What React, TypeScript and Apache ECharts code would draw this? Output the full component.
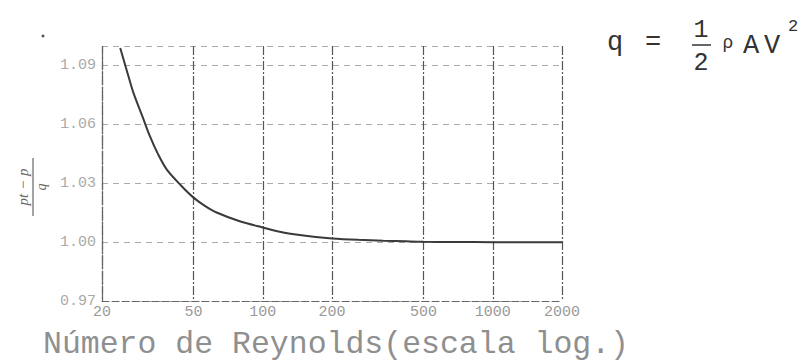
import React, { useEffect, useRef } from "react";
import * as echarts from "echarts";

// Reynolds number (log scale) and pressure coefficient (pt - p)/q
const reynolds = [24, 26, 27.4, 30, 32.3, 35, 38.2, 44, 50, 56, 63, 80, 100, 120, 145, 170, 200, 260, 334, 420, 500, 700, 1000, 1400, 2000];
const coef = [1.099, 1.085, 1.0761, 1.064, 1.054, 1.045, 1.0371, 1.029, 1.0227, 1.0185, 1.0151, 1.0105, 1.0075, 1.0052, 1.0036, 1.0026, 1.0019, 1.0012, 1.0007, 1.0004, 1.0002, 1.0001, 1.0, 1.0, 1.0];

const xTicks = [20, 50, 100, 200, 500, 1000, 2000];
const yTickLabels = ["0.97", "1.00", "1.03", "1.06", "1.09"];
const xName = "Número de Reynolds(escala log.)";

export default function App() {
  const ref = useRef<HTMLDivElement>(null);
  useEffect(() => {
    if (!ref.current) return;
    const chart = echarts.init(ref.current, null, { renderer: "svg" });
    const mono = "Liberation Mono";
    const glyph = (text: string, x: number, y: number, size: number) => ({
      type: "text",
      x,
      y,
      style: { text, fontFamily: mono, fontSize: size, fill: "#333", align: "center", verticalAlign: "middle" },
    });
    chart.setOption({
      animation: false,
      backgroundColor: "#ffffff",
      grid: { left: 102, right: 241, top: 46, bottom: 62 },
      xAxis: {
        type: "log",
        logBase: 10,
        min: 20,
        max: 2000,
        axisLine: { show: true, lineStyle: { color: "#666", type: [7, 3], width: 1 } },
        axisTick: { show: false, customValues: xTicks },
        axisLabel: {
          customValues: xTicks,
          color: "#999",
          fontFamily: mono,
          fontSize: 15,
          margin: 4,
          formatter: (v: number) => String(Math.round(v)),
        },
        splitLine: { show: true, lineStyle: { color: "#555", type: [9, 2, 2, 2], width: 1.2 } },
      },
      yAxis: {
        type: "value",
        min: 0.97,
        max: 1.1,
        interval: 0.03,
        axisLine: { show: true, lineStyle: { color: "#666", type: [6, 2], width: 1.2 } },
        axisTick: { show: false },
        axisLabel: {
          color: "#aaa",
          fontFamily: mono,
          fontSize: 15,
          margin: 6,
          showMaxLabel: false,
          formatter: (v: number) => {
            const s = v.toFixed(2);
            return yTickLabels.includes(s) ? s : "";
          },
        },
        splitLine: { show: true, lineStyle: { color: "#aaa", type: [6, 5], width: 1 } },
      },
      series: [
        {
          type: "line",
          data: reynolds.map((r, i) => [r, coef[i]]),
          smooth: 0.3,
          showSymbol: false,
          lineStyle: { color: "#3a3a3a", width: 2 },
          z: 5,
        },
      ],
      graphic: [
        { type: "circle", shape: { cx: 43, cy: 36, r: 1.5 }, style: { fill: "#555" } },
        // vertical fraction label (pt - p)/q
        {
          type: "group",
          x: 33,
          y: 187,
          rotation: Math.PI / 2,
          children: [
            {
              type: "text",
              x: 0,
              y: -10,
              style: {
                text: "pt − p",
                fontFamily: "Liberation Serif",
                fontStyle: "italic",
                fontSize: 15,
                fill: "#666",
                align: "center",
                verticalAlign: "middle",
              },
            },
            { type: "line", shape: { x1: -29, y1: 0, x2: 29, y2: 0 }, style: { stroke: "#666", lineWidth: 1.2 } },
            {
              type: "text",
              x: 0,
              y: 8,
              style: {
                text: "q",
                fontFamily: "Liberation Serif",
                fontStyle: "italic",
                fontSize: 14,
                fill: "#666",
                align: "center",
                verticalAlign: "middle",
              },
            },
          ],
        },
        // formula q = 1/2 ρAV²
        glyph("q", 615, 43, 27),
        glyph("=", 653, 43, 27),
        glyph("1", 701, 30, 25),
        { type: "line", shape: { x1: 692, y1: 45, x2: 711, y2: 45 }, style: { stroke: "#333", lineWidth: 1.5 } },
        glyph("2", 701, 63, 25),
        glyph("ρ", 728, 43, 18),
        glyph("A", 751, 46, 27),
        glyph("V", 772, 46, 27),
        glyph("2", 793, 26, 17),
        // axis title
        {
          type: "text",
          x: 43,
          y: 344,
          style: { text: xName, fontFamily: mono, fontSize: 31.5, fill: "#8f8f8f", align: "left", verticalAlign: "middle" },
        },
      ],
    });
    return () => chart.dispose();
  }, []);
  return <div ref={ref} style={{ position: "fixed", left: 0, top: 0, width: 803, height: 363 }} />;
}
